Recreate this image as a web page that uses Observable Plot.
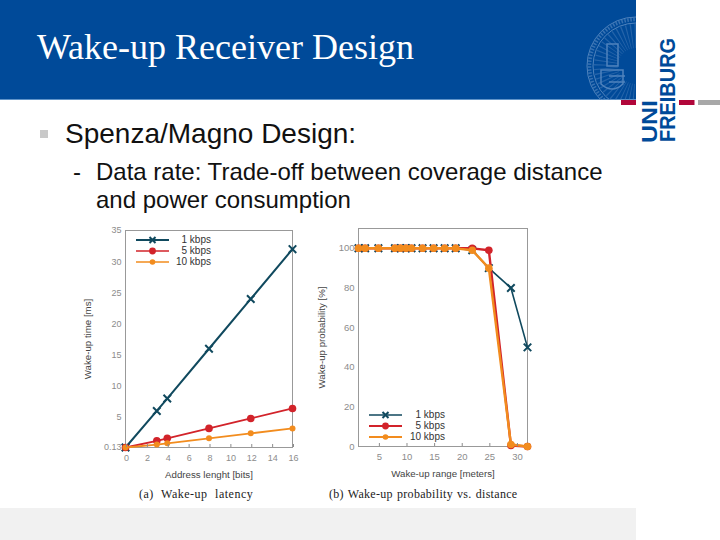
<!DOCTYPE html>
<html><head><meta charset="utf-8">
<script src="https://cdn.jsdelivr.net/npm/d3@7"></script>
<script src="https://cdn.jsdelivr.net/npm/@observablehq/plot@0.6"></script>
<style>
html,body{margin:0;padding:0;background:#fff;width:720px;height:540px;overflow:hidden}
.a{position:absolute;white-space:nowrap}
#head{left:0;top:0;width:636px;height:100px;background:#004a99;border-bottom:1px solid #5f93c8;box-sizing:border-box}
#title{left:37px;top:27px;font:36px/40px "Liberation Serif",serif;color:#fff}
.body{font-family:"Liberation Sans",sans-serif;color:#111}
.cap{font:12px/14px "Liberation Serif",serif;color:#222}
.leg{font:10px/11px "Liberation Sans",sans-serif;color:#333;text-align:right}
svg.plot{position:absolute;background:transparent}
</style></head><body>
<div class="a" id="head"></div>
<svg class="a" style="left:580px;top:0" width="56" height="100" viewBox="580 0 56 100">
  <g fill="none" stroke="#4f83bd">
    <circle cx="636" cy="66" r="49" stroke-width="1"/>
    <circle cx="636" cy="66" r="46.500" stroke-width="3.500" stroke-dasharray="1.500 1.500" opacity=".7"/>
    <circle cx="636" cy="66" r="43" stroke-width="1"/>
    <circle cx="636" cy="66" r="30" stroke-width="24" stroke-dasharray="1 2.500" opacity=".45"/>
    <path d="M601 70h22v14q-11 10-22 0z M607 44h11v22h-11z M609 76h16M609 82h16" stroke-width="1.500"/>
  </g>
</svg>
<div class="a" id="title">Wake-up Receiver Design</div>
<svg class="a" style="left:636px;top:0" width="84" height="150" viewBox="636 0 84 150">
  <rect x="679" y="100" width="15.500" height="5" fill="#b1063a"/>
  <rect x="698" y="100" width="22" height="5" fill="#a8a8a8"/>
  <g font-family="Liberation Sans" font-weight="700" fill="#004a99">
    <text transform="translate(656.500,143) rotate(-90)" font-size="22" textLength="43" lengthAdjust="spacingAndGlyphs">UNI</text>
    <text transform="translate(675,142) rotate(-90)" font-size="22" textLength="104" lengthAdjust="spacingAndGlyphs">FREIBURG</text>
  </g>
</svg>
<div class="a" style="left:621px;top:100px;width:15px;height:5px;background:#b1063a"></div>
<div class="a" style="left:40px;top:130px;width:8px;height:8px;background:#c9c9c9"></div>
<div class="a body" style="left:65px;top:120px;font-size:28px;line-height:28px">Spenza/Magno Design:</div>
<div class="a body" style="left:73px;top:158px;font-size:24px;line-height:28px">-</div>
<div class="a body" style="left:96px;top:158px;font-size:24px;line-height:28px">Data rate: Trade-off between coverage distance</div>
<div class="a body" style="left:96px;top:186px;font-size:24px;line-height:28px">and power consumption</div>
<div class="a" style="left:0;top:508px;width:636px;height:32px;background:#f1f1f1"></div>
<div id="charts"></div>
<div class="a cap" style="left:139px;top:487px;letter-spacing:.5px;word-spacing:4px">(a) Wake-up latency</div>
<div class="a cap" style="left:329px;top:487px;letter-spacing:.3px;word-spacing:.8px">(b) Wake-up probability vs. distance</div>
<script>
const seriesNames = ["1 kbps", "5 kbps", "10 kbps"];
const seriesColors = ["#10495e", "#d2232a", "#f28c1e"];

const bits = [0, 3, 4, 8, 12, 16];
const latency1 = [0.13, 6, 8, 16, 24, 32];
const latency5 = [0.13, 1.2, 1.6, 3.2, 4.8, 6.4];
const latency10 = [0.13, 0.6, 0.8, 1.6, 2.4, 3.2];
const latencyXTicks = [0, 2, 4, 6, 8, 10, 12, 14, 16];
const latencyYTicks = [0.13, 5, 10, 15, 20, 25, 30, 35];

const range = [1.4, 2.6, 5, 8, 9, 10, 11, 13, 15, 17, 19, 22, 25, 29, 32];
const prob1 = [100, 100, 100, 100, 100, 100, 100, 100, 100, 100, 100, 99, 90, 80, 50];
const prob5 = [100, 100, 100, 100, 100, 100, 100, 100, 100, 100, 100, 100, 99, 0.5, 0];
const prob10 = [100, 100, 100, 100, 100, 100, 100, 100, 100, 100, 100, 99, 90, 1, 0];
const rangeTicks = [5, 10, 15, 20, 25, 30];
const probTicks = [0, 20, 40, 60, 80, 100];

function chart(xs, ys, o) {
  const marks = [Plot.frame({stroke: "#999", strokeWidth: 1})];
  ys.forEach((y, i) => {
    const rows = xs.map((x, j) => ({x, y: y[j]}));
    marks.push(Plot.line(rows, {x: "x", y: "y", stroke: seriesColors[i], strokeWidth: o.lw[i]}));
    marks.push(i === 0
      ? Plot.dot(rows, {x: "x", y: "y", symbol: "times", r: 3.5, stroke: seriesColors[i], strokeWidth: 2})
      : Plot.dot(rows, {x: "x", y: "y", r: o.r[i], fill: seriesColors[i]}));
  });
  const axisStyle = {fontSize: o.tickFont, color: "#8c8c8c", tickFormat: String};
  marks.push(Plot.axisX({ticks: o.xTicks, tickSize: -3, tickPadding: 10, dx: 1, label: null, ...axisStyle}));
  marks.push(Plot.axisY({ticks: o.yTicks, tickSize: 0, tickPadding: 4, label: null, ...axisStyle}));
  marks.push(Plot.axisX({ticks: [], label: o.xLabel, labelAnchor: "center", labelOffset: o.xOff, labelArrow: "none", fontSize: 9.7, color: "#444", tickSize: 0}));
  marks.push(Plot.axisY({ticks: [], label: o.yLabel, labelAnchor: "center", labelOffset: o.yOff, labelArrow: "none", fontSize: 9.7, color: "#444", tickSize: 0}));
  const svg = Plot.plot({
    width: o.w, height: o.h, marginLeft: o.ml, marginRight: o.mr, marginTop: o.mt, marginBottom: o.mb,
    style: {background: "transparent", fontFamily: "Liberation Sans", position: "absolute", left: o.left + "px", top: o.top + "px", overflow: "visible"},
    x: {domain: o.xDomain}, y: {domain: o.yDomain}, marks
  });
  document.getElementById("charts").appendChild(svg);
}

chart(bits, [latency1, latency5, latency10], {
  left: 70, top: 215, w: 240, h: 290, ml: 55, mr: 18, mt: 15, mb: 58, tickFont: 9,
  xDomain: [0, 16], yDomain: [0.13, 35], xTicks: latencyXTicks, yTicks: latencyYTicks,
  xLabel: "Address lenght [bits]", yLabel: "Wake-up time [ms]", xOff: 30, yOff: 41,
  lw: [2, 1.8, 1.8], r: [0, 3.8, 3]
});
chart(range, [prob1, prob5, prob10], {
  left: 310, top: 215, w: 240, h: 290, ml: 48, mr: 23, mt: 13, mb: 59, tickFont: 9.5,
  xDomain: [1.4, 32], yDomain: [0, 110], xTicks: rangeTicks, yTicks: probTicks,
  xLabel: "Wake-up range [meters]", yLabel: "Wake-up probability [%]", xOff: 30, yOff: 40,
  lw: [1.6, 2.4, 2.4], r: [0, 3.8, 3.8]
});

function legend(left, top, lineW, textRight, gap, widths) {
  seriesNames.forEach((name, i) => {
    const y = top + i * gap;
    const s = document.createElementNS("http://www.w3.org/2000/svg", "svg");
    s.setAttribute("width", lineW + 10); s.setAttribute("height", 12);
    s.setAttribute("class", "a");
    s.style.left = (left - 5) + "px"; s.style.top = (y - 6) + "px";
    const c = seriesColors[i], m = lineW / 2 + 5;
    s.innerHTML = `<line x1="5" x2="${lineW + 5}" y1="6" y2="6" stroke="${c}" stroke-width="${widths[i]}"/>` +
      (i === 0
        ? `<path d="M${m - 3} 3L${m + 3} 9M${m - 3} 9L${m + 3} 3" stroke="${c}" stroke-width="2" fill="none"/>`
        : `<circle cx="${m}" cy="6" r="${i === 1 ? 3.4 : 2.8}" fill="${c}"/>`);
    document.body.appendChild(s);
    const t = document.createElement("div");
    t.className = "a leg";
    t.style.right = (720 - textRight) + "px";
    t.style.top = (y - 6) + "px";
    t.textContent = name;
    document.body.appendChild(t);
  });
}
legend(136, 240, 33, 211, 11, [2.2, 1.6, 1.6]);
legend(369, 415, 33, 445, 11, [1.6, 2.2, 2.2]);
</script>
</body></html>
